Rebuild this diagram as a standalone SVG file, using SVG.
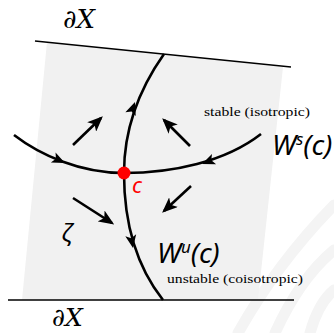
<svg xmlns="http://www.w3.org/2000/svg" width="334" height="333" viewBox="0 0 334 333">
<defs>
<style>
.bd{stroke:#000;stroke-width:1.6;fill:none}
.cv{stroke:#000;stroke-width:2.6;fill:none}
.ar{stroke:#000;stroke-width:2.6;fill:none;marker-end:url(#ah)}
.wm{stroke:#f4f4f4;stroke-width:11;fill:none;stroke-linecap:round}
.lab{font-family:"DejaVu Serif","Liberation Serif",serif;fill:#000}
.sm{font-family:"Liberation Serif",serif;font-size:12px;fill:#000}
.mi{font-family:"Noto Sans","DejaVu Sans",sans-serif;font-style:italic;fill:#000}
</style>
<marker id="ah" viewBox="0 0 12 10" refX="10" refY="5" markerWidth="6" markerHeight="5" orient="auto" markerUnits="strokeWidth">
<path d="M0,0 L12,5 L0,10 L3,5 Z" fill="#000"/>
</marker>
</defs>
<g id="watermark">
<path class="wm" d="M238,333 C262,290 290,250 334,205"/>
<path class="wm" d="M275,333 C290,300 310,270 334,250"/>
<path class="wm" d="M310,333 C315,315 322,300 334,290"/>
</g>
<g id="region">
<path d="M47,42 L283,67 L258,300 L22,300 Z" fill="#f1f1f1"/>
</g>
<g id="boundary">
<line class="bd" x1="35" y1="41" x2="291" y2="67"/>
<line class="bd" x1="8" y1="300" x2="294" y2="300"/>
<text class="lab" x="63" y="28" font-size="26">∂<tspan font-style="italic">X</tspan></text>
<text class="lab" x="52" y="326" font-size="25">∂<tspan font-style="italic">X</tspan></text>
</g>
<g id="connectors">
<path class="cv" d="M164,54 C140,88 124,128 124,173 C124,215 133,262 163,300"/>
<path class="cv" d="M14,135 C40,155 80,173 124,173 C172,173 225,162 261,134"/>
</g>
<g id="flow-arrows">
<line class="ar" x1="73" y1="145" x2="101" y2="118"/>
<line class="ar" x1="190" y1="146" x2="164" y2="120"/>
<line class="ar" x1="191" y1="186" x2="164" y2="211"/>
<line class="ar" x1="73" y1="198" x2="112" y2="223"/>
</g>
<g id="curve-arrows">
<path d="M-13,-5.5 L0,0 L-13,5.5 L-10,0 Z" fill="#000" transform="translate(135,102) rotate(-70)"/>
<path d="M-13,-5.5 L0,0 L-13,5.5 L-10,0 Z" fill="#000" transform="translate(133,248) rotate(80)"/>
<path d="M-13,-5.5 L0,0 L-13,5.5 L-10,0 Z" fill="#000" transform="translate(65,163) rotate(25)"/>
<path d="M-13,-5.5 L0,0 L-13,5.5 L-10,0 Z" fill="#000" transform="translate(202,164) rotate(158)"/>
</g>
<g id="node-c">
<circle cx="124" cy="173" r="6.5" fill="#ff0000"/>
<text class="mi" x="132" y="193" font-size="22" style="fill:#ff0000">c</text>
</g>
<g id="stable-label">
<text class="mi" x="272" y="155" font-size="28">W<tspan font-size="17" dy="-10">s</tspan><tspan dy="10">(c)</tspan></text>
<text class="sm" x="204" y="116" textLength="106" lengthAdjust="spacingAndGlyphs">stable (isotropic)</text>
</g>
<g id="unstable-label">
<text class="mi" x="157" y="263" font-size="28">W<tspan font-size="17" dy="-10">u</tspan><tspan dy="10">(c)</tspan></text>
<text class="sm" x="167" y="283" textLength="136" lengthAdjust="spacingAndGlyphs">unstable (coisotropic)</text>
</g>
<g id="zeta">
<text class="mi" x="62" y="241" font-size="24">ζ</text>
</g>
</svg>
